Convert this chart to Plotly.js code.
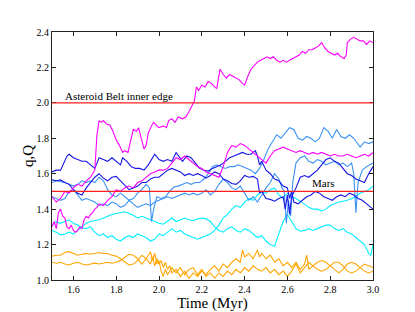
<!DOCTYPE html>
<html>
<head>
<meta charset="utf-8">
<script src="https://cdn.plot.ly/plotly-3.0.1.min.js"></script>
<style>html,body{margin:0;padding:0;background:#fff;}#chart{width:415px;height:312px;}</style>
</head>
<body>
<div id="chart"></div>
<script>
// Reference levels (AU)
const beltInnerEdge = 2.0;
const marsOrbit = 1.5;

// Series: [time (Myr), distance (AU)]
const magentaQ = [[1.50,1.47],[1.52,1.44],[1.54,1.46],[1.56,1.50],[1.58,1.49],[1.60,1.52],[1.62,1.54],[1.64,1.53],[1.66,1.56],[1.68,1.58],[1.70,1.62],[1.705,1.75],[1.71,1.82],[1.72,1.90],[1.73,1.89],[1.74,1.90],[1.755,1.88],[1.77,1.875],[1.785,1.84],[1.80,1.79],[1.815,1.76],[1.83,1.72],[1.84,1.73],[1.855,1.72],[1.865,1.78],[1.88,1.85],[1.895,1.84],[1.905,1.86],[1.915,1.81],[1.93,1.74],[1.94,1.76],[1.95,1.83],[1.965,1.87],[1.975,1.89],[1.99,1.87],[2.00,1.86],[2.02,1.87],[2.035,1.86],[2.045,1.90],[2.06,1.91],[2.075,1.89],[2.09,1.92],[2.11,1.91],[2.125,1.92],[2.14,1.95],[2.155,1.99],[2.165,2.01],[2.175,2.09],[2.185,2.07],[2.20,2.10],[2.215,2.09],[2.23,2.12],[2.245,2.11],[2.26,2.09],[2.27,2.08],[2.285,2.19],[2.30,2.16],[2.315,2.14],[2.33,2.16],[2.345,2.15],[2.36,2.14],[2.375,2.13],[2.39,2.11],[2.40,2.10],[2.415,2.15],[2.43,2.19],[2.445,2.21],[2.46,2.23],[2.475,2.24],[2.49,2.25],[2.505,2.26],[2.52,2.25],[2.535,2.26],[2.55,2.24],[2.565,2.23],[2.58,2.24],[2.595,2.23],[2.61,2.24],[2.625,2.25],[2.64,2.26],[2.655,2.27],[2.67,2.29],[2.685,2.28],[2.70,2.30],[2.715,2.30],[2.73,2.31],[2.745,2.32],[2.76,2.34],[2.775,2.31],[2.79,2.29],[2.805,2.28],[2.82,2.27],[2.835,2.28],[2.85,2.26],[2.865,2.25],[2.875,2.27],[2.88,2.34],[2.895,2.36],[2.91,2.37],[2.925,2.36],[2.94,2.35],[2.955,2.35],[2.97,2.33],[2.985,2.35],[3.00,2.34]];

const magentaq = [[1.50,1.30],[1.51,1.33],[1.52,1.29],[1.53,1.38],[1.54,1.40],[1.55,1.36],[1.56,1.35],[1.57,1.30],[1.58,1.29],[1.59,1.31],[1.60,1.28],[1.61,1.27],[1.62,1.28],[1.63,1.30],[1.64,1.29],[1.65,1.34],[1.66,1.36],[1.67,1.35],[1.68,1.37],[1.69,1.38],[1.70,1.40],[1.71,1.41],[1.72,1.43],[1.74,1.42],[1.76,1.45],[1.78,1.47],[1.80,1.51],[1.82,1.50],[1.84,1.52],[1.86,1.53],[1.88,1.52],[1.90,1.55],[1.92,1.56],[1.94,1.58],[1.96,1.60],[1.98,1.61],[2.00,1.62],[2.02,1.62],[2.04,1.63],[2.06,1.66],[2.08,1.69],[2.10,1.68],[2.12,1.70],[2.14,1.68],[2.16,1.66],[2.18,1.64],[2.20,1.63],[2.22,1.61],[2.24,1.60],[2.26,1.59],[2.28,1.58],[2.30,1.64],[2.32,1.72],[2.34,1.76],[2.36,1.75],[2.38,1.77],[2.40,1.76],[2.42,1.74],[2.44,1.72],[2.46,1.70],[2.48,1.68],[2.50,1.66],[2.52,1.70],[2.54,1.73],[2.56,1.74],[2.58,1.75],[2.60,1.74],[2.62,1.73],[2.64,1.72],[2.66,1.73],[2.68,1.72],[2.70,1.71],[2.72,1.72],[2.74,1.71],[2.76,1.72],[2.78,1.71],[2.80,1.70],[2.82,1.71],[2.84,1.70],[2.86,1.70],[2.88,1.71],[2.90,1.70],[2.92,1.69],[2.94,1.70],[2.96,1.71],[2.98,1.70],[3.00,1.72]];

const blueA = [[1.50,1.61],[1.52,1.62],[1.54,1.62],[1.555,1.66],[1.57,1.70],[1.58,1.71],[1.60,1.69],[1.62,1.68],[1.64,1.67],[1.66,1.67],[1.68,1.65],[1.70,1.63],[1.71,1.66],[1.72,1.69],[1.74,1.68],[1.76,1.67],[1.78,1.69],[1.80,1.67],[1.82,1.65],[1.83,1.69],[1.85,1.67],[1.87,1.64],[1.89,1.63],[1.91,1.63],[1.93,1.62],[1.95,1.65],[1.97,1.69],[1.98,1.71],[2.00,1.68],[2.02,1.67],[2.04,1.68],[2.06,1.67],[2.08,1.72],[2.10,1.69],[2.11,1.67],[2.13,1.70],[2.15,1.69],[2.17,1.66],[2.19,1.63],[2.21,1.62],[2.23,1.615],[2.25,1.63],[2.27,1.64],[2.29,1.65],[2.31,1.67],[2.33,1.69],[2.35,1.70],[2.37,1.71],[2.39,1.72],[2.41,1.71],[2.43,1.71],[2.45,1.73],[2.46,1.70],[2.47,1.65],[2.48,1.67],[2.50,1.62],[2.52,1.60],[2.54,1.57],[2.56,1.56],[2.58,1.53],[2.60,1.52],[2.61,1.46],[2.62,1.50],[2.63,1.44],[2.65,1.43],[2.67,1.45],[2.69,1.47],[2.71,1.48],[2.73,1.50],[2.75,1.49],[2.77,1.47],[2.79,1.46],[2.81,1.45],[2.83,1.47],[2.85,1.48],[2.87,1.47],[2.89,1.49],[2.91,1.48],[2.93,1.46],[2.95,1.45],[2.97,1.43],[2.99,1.41],[3.00,1.40]];

const blueB = [[1.50,1.565],[1.52,1.56],[1.54,1.565],[1.56,1.55],[1.58,1.54],[1.60,1.51],[1.62,1.49],[1.64,1.48],[1.66,1.52],[1.68,1.55],[1.70,1.58],[1.72,1.60],[1.74,1.575],[1.76,1.56],[1.78,1.58],[1.80,1.585],[1.82,1.56],[1.84,1.53],[1.86,1.51],[1.88,1.52],[1.90,1.53],[1.92,1.55],[1.94,1.55],[1.96,1.57],[1.98,1.58],[2.00,1.58],[2.02,1.60],[2.04,1.62],[2.06,1.63],[2.08,1.62],[2.10,1.61],[2.12,1.59],[2.14,1.60],[2.16,1.59],[2.18,1.60],[2.20,1.59],[2.22,1.575],[2.24,1.59],[2.26,1.61],[2.28,1.60],[2.30,1.57],[2.32,1.56],[2.34,1.545],[2.36,1.54],[2.38,1.56],[2.40,1.59],[2.42,1.58],[2.44,1.585],[2.46,1.57],[2.47,1.49],[2.48,1.50],[2.50,1.46],[2.52,1.455],[2.54,1.445],[2.56,1.46],[2.58,1.47],[2.59,1.40],[2.60,1.48],[2.61,1.37],[2.62,1.47],[2.64,1.52],[2.66,1.58],[2.68,1.59],[2.70,1.58],[2.72,1.60],[2.74,1.62],[2.76,1.65],[2.78,1.68],[2.80,1.69],[2.82,1.67],[2.84,1.66],[2.86,1.63],[2.88,1.60],[2.90,1.59],[2.92,1.57],[2.94,1.56],[2.96,1.55],[2.98,1.60],[3.00,1.64]];

const skyA = [[1.50,1.55],[1.52,1.56],[1.54,1.555],[1.56,1.55],[1.58,1.54],[1.60,1.53],[1.62,1.54],[1.64,1.56],[1.66,1.55],[1.68,1.56],[1.70,1.55],[1.72,1.58],[1.74,1.56],[1.76,1.51],[1.78,1.48],[1.80,1.47],[1.82,1.49],[1.84,1.47],[1.86,1.45],[1.88,1.46],[1.90,1.49],[1.92,1.51],[1.94,1.54],[1.955,1.52],[1.965,1.33],[1.975,1.40],[1.99,1.47],[2.01,1.46],[2.03,1.47],[2.05,1.50],[2.07,1.525],[2.09,1.53],[2.11,1.54],[2.13,1.55],[2.15,1.54],[2.17,1.55],[2.19,1.55],[2.21,1.57],[2.23,1.60],[2.25,1.64],[2.27,1.65],[2.29,1.64],[2.31,1.63],[2.33,1.64],[2.35,1.64],[2.37,1.65],[2.39,1.64],[2.41,1.63],[2.43,1.62],[2.45,1.60],[2.47,1.63],[2.49,1.68],[2.51,1.74],[2.53,1.78],[2.55,1.82],[2.57,1.80],[2.59,1.83],[2.61,1.86],[2.63,1.85],[2.65,1.80],[2.67,1.79],[2.69,1.81],[2.71,1.80],[2.73,1.78],[2.75,1.80],[2.77,1.86],[2.79,1.84],[2.81,1.80],[2.83,1.85],[2.85,1.81],[2.87,1.80],[2.89,1.82],[2.91,1.80],[2.93,1.77],[2.94,1.75],[2.96,1.78],[2.98,1.77],[3.00,1.78]];

const skyB = [[1.50,1.47],[1.52,1.46],[1.54,1.45],[1.56,1.46],[1.58,1.50],[1.60,1.51],[1.62,1.48],[1.64,1.45],[1.66,1.46],[1.68,1.45],[1.70,1.44],[1.72,1.42],[1.74,1.43],[1.76,1.42],[1.78,1.44],[1.80,1.43],[1.82,1.41],[1.84,1.42],[1.86,1.45],[1.88,1.43],[1.90,1.41],[1.92,1.42],[1.94,1.43],[1.96,1.42],[1.98,1.44],[2.00,1.45],[2.02,1.46],[2.04,1.47],[2.06,1.46],[2.08,1.47],[2.10,1.48],[2.12,1.49],[2.14,1.48],[2.16,1.49],[2.18,1.48],[2.20,1.49],[2.22,1.51],[2.24,1.48],[2.26,1.50],[2.28,1.54],[2.30,1.57],[2.32,1.55],[2.34,1.52],[2.36,1.51],[2.38,1.53],[2.40,1.49],[2.42,1.45],[2.44,1.47],[2.46,1.44],[2.48,1.48],[2.50,1.52],[2.52,1.55],[2.54,1.60],[2.56,1.57],[2.575,1.52],[2.585,1.50],[2.595,1.32],[2.605,1.45],[2.615,1.36],[2.625,1.55],[2.64,1.66],[2.66,1.69],[2.68,1.70],[2.70,1.67],[2.72,1.66],[2.74,1.68],[2.76,1.67],[2.78,1.65],[2.80,1.66],[2.82,1.67],[2.84,1.65],[2.86,1.66],[2.88,1.64],[2.90,1.66],[2.91,1.60],[2.92,1.38],[2.93,1.55],[2.95,1.62],[2.97,1.64],[3.00,1.66]];

const cyanA = [[1.50,1.31],[1.52,1.33],[1.54,1.32],[1.56,1.33],[1.58,1.34],[1.60,1.32],[1.62,1.31],[1.64,1.295],[1.66,1.29],[1.68,1.30],[1.70,1.27],[1.72,1.25],[1.74,1.26],[1.76,1.24],[1.78,1.25],[1.80,1.23],[1.82,1.22],[1.84,1.24],[1.86,1.25],[1.88,1.24],[1.90,1.26],[1.92,1.25],[1.94,1.24],[1.96,1.22],[1.98,1.23],[2.00,1.26],[2.02,1.25],[2.04,1.27],[2.06,1.29],[2.08,1.27],[2.10,1.28],[2.12,1.26],[2.14,1.25],[2.16,1.24],[2.18,1.23],[2.20,1.24],[2.22,1.25],[2.24,1.26],[2.26,1.28],[2.28,1.31],[2.30,1.35],[2.32,1.37],[2.34,1.40],[2.36,1.42],[2.38,1.41],[2.40,1.44],[2.42,1.46],[2.44,1.45],[2.46,1.48],[2.48,1.50],[2.50,1.49],[2.52,1.51],[2.54,1.52],[2.56,1.48],[2.58,1.46],[2.60,1.49],[2.62,1.47],[2.64,1.46],[2.66,1.445],[2.68,1.43],[2.70,1.41],[2.72,1.40],[2.74,1.40],[2.76,1.39],[2.78,1.40],[2.80,1.42],[2.82,1.43],[2.84,1.44],[2.86,1.445],[2.88,1.45],[2.90,1.46],[2.92,1.47],[2.94,1.49],[2.96,1.50],[2.98,1.51],[3.00,1.53]];

const cyanB = [[1.50,1.28],[1.52,1.27],[1.54,1.255],[1.56,1.26],[1.58,1.27],[1.60,1.26],[1.62,1.28],[1.64,1.30],[1.66,1.32],[1.68,1.33],[1.70,1.335],[1.72,1.34],[1.74,1.35],[1.76,1.36],[1.78,1.37],[1.80,1.375],[1.82,1.38],[1.84,1.385],[1.86,1.375],[1.88,1.365],[1.90,1.35],[1.92,1.36],[1.94,1.35],[1.96,1.34],[1.98,1.33],[2.00,1.32],[2.02,1.315],[2.04,1.33],[2.06,1.35],[2.08,1.33],[2.10,1.34],[2.12,1.35],[2.14,1.34],[2.16,1.335],[2.18,1.345],[2.20,1.35],[2.22,1.345],[2.24,1.33],[2.26,1.30],[2.28,1.28],[2.30,1.27],[2.32,1.29],[2.34,1.30],[2.36,1.28],[2.38,1.27],[2.40,1.29],[2.42,1.28],[2.44,1.26],[2.46,1.24],[2.48,1.25],[2.50,1.22],[2.52,1.20],[2.54,1.19],[2.56,1.26],[2.58,1.33],[2.60,1.37],[2.62,1.33],[2.64,1.29],[2.66,1.275],[2.68,1.28],[2.70,1.29],[2.72,1.28],[2.74,1.29],[2.76,1.30],[2.78,1.31],[2.80,1.31],[2.82,1.29],[2.84,1.28],[2.86,1.29],[2.88,1.27],[2.90,1.26],[2.92,1.24],[2.94,1.22],[2.96,1.20],[2.98,1.15],[2.99,1.14],[3.00,1.20]];

const orangeA = [[1.50,1.135],[1.52,1.14],[1.54,1.14],[1.56,1.155],[1.58,1.16],[1.60,1.15],[1.62,1.14],[1.64,1.145],[1.66,1.15],[1.68,1.145],[1.70,1.15],[1.72,1.155],[1.74,1.15],[1.76,1.15],[1.78,1.14],[1.80,1.135],[1.82,1.12],[1.84,1.10],[1.86,1.085],[1.88,1.09],[1.90,1.11],[1.92,1.14],[1.94,1.12],[1.96,1.09],[1.97,1.13],[1.98,1.08],[1.99,1.12],[2.00,1.09],[2.01,1.11],[2.02,1.07],[2.03,1.10],[2.04,1.06],[2.05,1.08],[2.06,1.04],[2.08,1.06],[2.10,1.02],[2.12,1.05],[2.14,1.01],[2.16,1.04],[2.18,1.02],[2.20,1.05],[2.22,1.03],[2.24,1.06],[2.26,1.08],[2.28,1.05],[2.30,1.09],[2.32,1.07],[2.34,1.10],[2.36,1.12],[2.38,1.10],[2.39,1.17],[2.40,1.13],[2.42,1.15],[2.44,1.12],[2.46,1.17],[2.47,1.13],[2.48,1.15],[2.50,1.12],[2.52,1.14],[2.54,1.10],[2.56,1.12],[2.58,1.08],[2.60,1.10],[2.62,1.07],[2.64,1.10],[2.66,1.06],[2.68,1.09],[2.69,1.14],[2.70,1.06],[2.72,1.08],[2.74,1.10],[2.76,1.11],[2.78,1.10],[2.80,1.08],[2.82,1.06],[2.84,1.04],[2.86,1.06],[2.88,1.09],[2.90,1.10],[2.92,1.09],[2.94,1.07],[2.96,1.05],[2.98,1.04],[3.00,1.05]];

const orangeB = [[1.50,1.10],[1.52,1.095],[1.54,1.10],[1.56,1.09],[1.58,1.085],[1.60,1.095],[1.62,1.10],[1.64,1.09],[1.66,1.085],[1.68,1.09],[1.70,1.095],[1.72,1.09],[1.74,1.095],[1.76,1.10],[1.78,1.095],[1.80,1.10],[1.82,1.11],[1.84,1.13],[1.86,1.145],[1.88,1.14],[1.90,1.12],[1.92,1.09],[1.94,1.12],[1.96,1.16],[1.97,1.11],[1.98,1.15],[1.99,1.09],[2.00,1.11],[2.01,1.05],[2.02,1.02],[2.03,1.06],[2.04,1.03],[2.06,1.07],[2.08,1.04],[2.10,1.07],[2.12,1.03],[2.14,1.06],[2.16,1.07],[2.18,1.03],[2.20,1.06],[2.22,1.02],[2.24,1.04],[2.26,1.01],[2.28,1.04],[2.30,1.02],[2.32,1.05],[2.34,1.03],[2.36,1.06],[2.38,1.04],[2.40,1.07],[2.42,1.05],[2.44,1.08],[2.46,1.06],[2.48,1.05],[2.50,1.07],[2.52,1.04],[2.54,1.06],[2.56,1.03],[2.58,1.05],[2.60,1.02],[2.62,1.05],[2.64,1.09],[2.66,1.04],[2.68,1.07],[2.70,1.10],[2.72,1.08],[2.74,1.06],[2.76,1.05],[2.78,1.06],[2.80,1.08],[2.82,1.10],[2.84,1.10],[2.86,1.08],[2.88,1.05],[2.90,1.04],[2.92,1.05],[2.94,1.07],[2.96,1.09],[2.98,1.08],[3.00,1.07]];

const xTickVals = [1.6,1.8,2.0,2.2,2.4,2.6,2.8,3.0];
const yTickVals = [1.0,1.2,1.4,1.6,1.8,2.0,2.2,2.4];

const seriesList = [
  {data: orangeA, color: '#ffa500'},
  {data: orangeB, color: '#ffa500'},
  {data: cyanA, color: '#00f0ff'},
  {data: cyanB, color: '#00f0ff'},
  {data: skyA, color: '#3a92f5'},
  {data: skyB, color: '#3a92f5'},
  {data: blueA, color: '#1515e6'},
  {data: blueB, color: '#1515e6'},
  {data: magentaq, color: '#ff00ff'},
  {data: magentaQ, color: '#ff00ff'}
];

const traces = seriesList.map(s => ({
  x: s.data.map(p => p[0]),
  y: s.data.map(p => p[1]),
  type: 'scatter', mode: 'lines',
  line: {color: s.color, width: 1.1},
  hoverinfo: 'skip'
}));

const serif = 'Liberation Serif, Times New Roman, serif';
const axisCommon = {
  showgrid: false, zeroline: false, showline: true, linecolor: '#222', linewidth: 1,
  mirror: 'ticks', ticks: 'inside', ticklen: 4, tickwidth: 1, tickcolor: '#222',
  tickfont: {family: serif, size: 10, color: '#000'}, tickformat: '.1f', automargin: false
};

const layout = {
  width: 415, height: 312,
  margin: {l: 52, r: 42, t: 32, b: 32},
  paper_bgcolor: '#fff', plot_bgcolor: '#fff',
  showlegend: false,
  xaxis: Object.assign({}, axisCommon, {
    range: [1.5, 3.0], tickvals: xTickVals,
    title: {text: 'Time (Myr)', font: {family: serif, size: 15, color: '#000'}, standoff: 2}
  }),
  yaxis: Object.assign({}, axisCommon, {
    range: [1.0, 2.4], tickvals: yTickVals
  }),
  shapes: [beltInnerEdge, marsOrbit].map(v => ({
    type: 'line', xref: 'paper', yref: 'y', x0: 0, x1: 1, y0: v, y1: v,
    line: {color: 'rgb(255,30,30)', width: 1.2}, layer: 'above'
  })),
  annotations: [
    {x: 1.551, y: beltInnerEdge, xref: 'x', yref: 'y', text: 'Asteroid Belt inner edge', showarrow: false,
     xanchor: 'left', yanchor: 'bottom', yshift: -1, font: {family: serif, size: 11, color: '#000'}},
    {x: 2.706, y: marsOrbit, xref: 'x', yref: 'y', text: 'Mars', showarrow: false,
     xanchor: 'left', yanchor: 'bottom', yshift: 0, font: {family: serif, size: 11, color: '#000'}},
    {x: -0.075, y: 0.5, xref: 'paper', yref: 'paper', text: 'q,Q', showarrow: false, textangle: -90,
     xanchor: 'center', yanchor: 'middle', font: {family: serif, size: 15, color: '#000'}}
  ]
};

Plotly.newPlot('chart', traces, layout, {staticPlot: true, displayModeBar: false});
</script>
</body>
</html>
